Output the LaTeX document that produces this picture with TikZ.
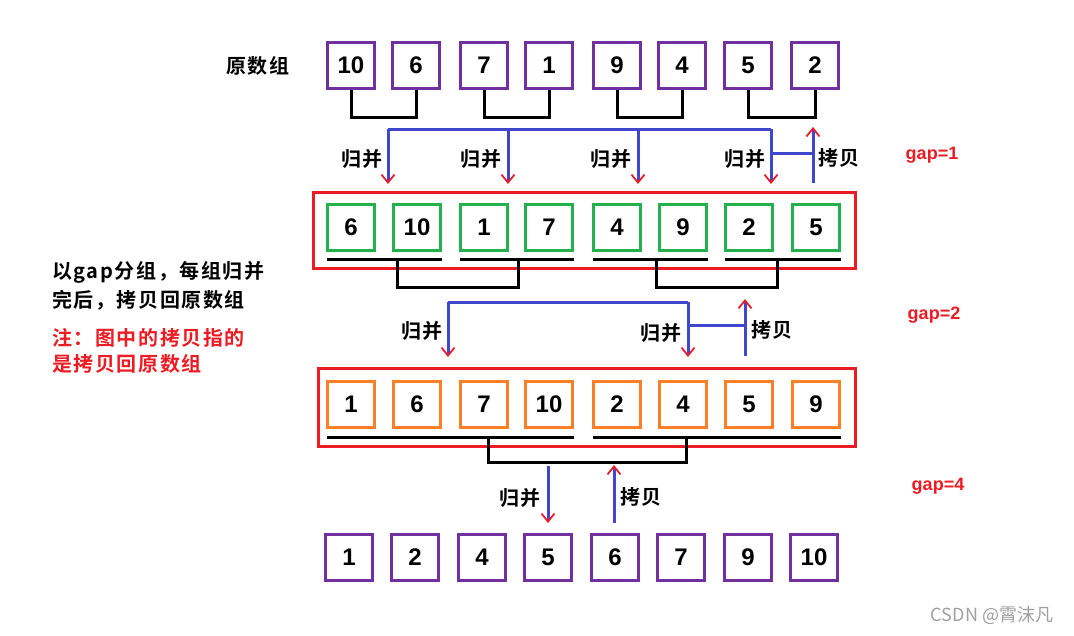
\documentclass[tikz,border=0pt]{standalone}
\usepackage{fontspec}
\setmainfont{Liberation Sans}[BoldFont={Liberation Sans Bold}]
\newfontfamily\cjk{Noto Sans CJK SC}[BoldFont={Noto Sans CJK SC Bold}]
\usetikzlibrary{arrows.meta,calc}
\definecolor{purp}{HTML}{7030A0}
\definecolor{grn}{HTML}{22B14C}
\definecolor{org}{HTML}{FF7F27}
\definecolor{rd}{HTML}{ED1C24}
\definecolor{blu}{HTML}{3F48CC}
\definecolor{wm}{HTML}{A0A0A0}
\begin{document}
\begin{tikzpicture}[x=1pt,y=-1pt,
  numbox/.style={draw, line width=3pt, minimum width=47pt, minimum height=46pt, inner sep=0pt,
    font=\bfseries\fontsize{24}{24}\selectfont},
  blk/.style={line width=3pt, black},
  bl/.style={line width=3pt, blu},
  arr/.style={line width=3pt, blu, -{Straight Barb[color=rd, length=8pt, width=13pt, line width=1.8pt]}},
  frame/.style={draw=rd, line width=3pt},
  zh/.style={font=\cjk\bfseries\fontsize{20}{20}\selectfont\addfontfeature{LetterSpace=8}, inner sep=0pt},
  gaplbl/.style={font=\bfseries\fontsize{18}{18}\selectfont, text=rd, inner sep=0pt},
]
\useasboundingbox (0,0) rectangle (1074,635);
\fill[white] (0,0) rectangle (1074,635);

% row 1
\foreach \n/\x/\t in {a/351/10,b/416/6,c/484/7,d/549/1,e/617/9,f/682/4,g/748/5,h/815/2}
  \node[numbox, draw=purp] (r1\n) at (\x,65.5) {\t};
% row 2
\foreach \n/\x/\t in {a/351/6,b/417/10,c/484/1,d/549/7,e/617/4,f/683/9,g/749/2,h/816/5}
  \node[numbox, draw=grn] (r2\n) at (\x,227) {\t};
% row 3
\foreach \n/\x/\t in {a/351/1,b/417/6,c/484/7,d/549/10,e/617/2,f/683/4,g/749/5,h/816/9}
  \node[numbox, draw=org] (r3\n) at (\x,404.5) {\t};
% row 4
\foreach \n/\x/\t in {a/349/1,b/415/2,c/482/4,d/548/5,e/615/6,f/681/7,g/748/9,h/814/10}
  \node[numbox, draw=purp] (r4\n) at (\x,557.5) {\t};

% frames
\coordinate (f2a) at (313,192); \coordinate (f2b) at (855,268);
\draw[frame] (f2a) rectangle (f2b);
\coordinate (f3a) at (318,368); \coordinate (f3b) at (855,446);
\draw[frame] (f3a) rectangle (f3b);

% row 1 brackets
\foreach \p/\q in {a/b,c/d,e/f,g/h}
  \draw[blk] (r1\p.south) -- ++(0,27) -| (r1\q.south);

% row 2 underlines and brackets
\foreach \p/\q in {a/b,c/d,e/f,g/h}
  \draw[blk] ($(r2\p.south west)+(1,8)$) -- ($(r2\q.south east)+(0,8)$);
\draw[blk] (397,260) -- (397,287) -- (518,287) -- (518,260);
\draw[blk] (656,260) -- (656,287) -- (777,287) -- (777,260);

% row 3 underlines and bracket
\draw[blk] ($(r3a.south west)+(1,8)$) -- ($(r3d.south east)+(0,8)$);
\draw[blk] ($(r3e.south west)+(1,8)$) -- ($(r3h.south east)+(0,8)$);
\draw[blk] (488,438) -- (488,462) -- (686,462) -- (686,438);

% merge/copy gap=1
\coordinate (m1) at (388,129); \coordinate (m2) at (508,129);
\coordinate (m3) at (638,129); \coordinate (m4) at (771,129);
\draw[bl] (m1) -- (m4);
\foreach \m in {m1,m2,m3,m4} \draw[arr] (\m) -- ++(0,55);
\coordinate (c1a) at (813,183); \coordinate (c1b) at (813,127);
\draw[bl] (771,153) -- (813,153);
\draw[arr] (c1a) -- (c1b);
\foreach \x in {362,481,611,745} \node[zh] at (\x,159) {归并};
\node[zh] (cp1) at (839,158) {拷贝};

% merge/copy gap=2
\coordinate (n1) at (448,302); \coordinate (n2) at (688,302);
\draw[bl] (n1) -- (n2);
\draw[arr] (n1) -- ++(0,55);
\draw[arr] (n2) -- ++(0,55);
\draw[bl] (688,325) -- (745,325);
\coordinate (c2a) at (745,356); \coordinate (c2b) at (745,299);
\draw[arr] (c2a) -- (c2b);
\node[zh] at (422,331) {归并};
\node[zh] at (661,333) {归并};
\node[zh] at (772,330) {拷贝};

% merge/copy gap=4
\coordinate (o1) at (548,466); \coordinate (o2) at (548,523);
\draw[arr] (o1) -- (o2);
\coordinate (p1) at (614,523); \coordinate (p2) at (614,465);
\draw[arr] (p1) -- (p2);
\node[zh] at (520,498) {归并};
\node[zh] at (641,497) {拷贝};

% texts
\node[zh] at (258,66) {原数组};
\node[zh, anchor=west] at (52,272) {以gap分组，每组归并};
\node[zh, anchor=west] at (52,300) {完后，拷贝回原数组};
\node[zh, anchor=west, text=rd] at (52,338) {注：图中的拷贝指的};
\node[zh, anchor=west, text=rd] at (52,364) {是拷贝回原数组};

\node[gaplbl] at (932,155) {gap=1};
\node[gaplbl] at (934,315) {gap=2};
\node[gaplbl] at (938,486) {gap=4};

\node[font=\cjk\fontsize{18}{18}\selectfont, text=wm, inner sep=0pt] at (992,615) {CSDN @霄沫凡};
\end{tikzpicture}
\end{document}
